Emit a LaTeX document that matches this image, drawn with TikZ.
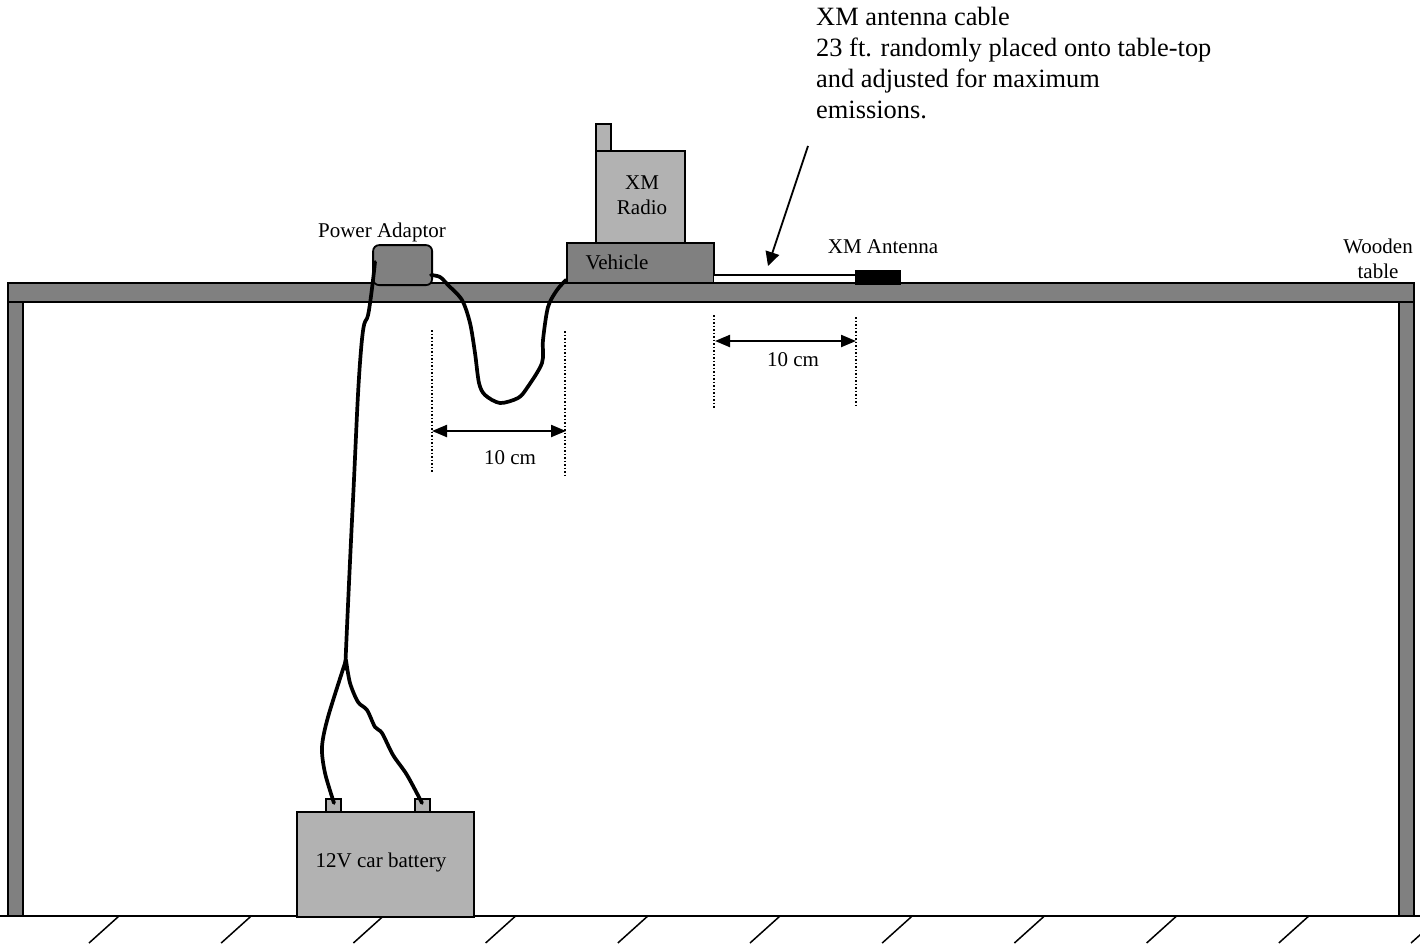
\documentclass[tikz,border=0pt]{standalone}
\usepackage{fontspec}
\setmainfont{Liberation Serif}
\usetikzlibrary{arrows.meta}

\tikzset{
    label21/.style={font=\fontsize{21}{25}\selectfont, inner sep=0pt, align=center},
    darkbox/.style={draw, line width=1.8pt, fill=black!50, rectangle, inner sep=0pt, anchor=north west, xshift=-0.8pt, yshift=0.8pt},
    lightbox/.style={draw, line width=1.8pt, fill=black!30, rectangle, inner sep=0pt, anchor=north west, xshift=-0.8pt, yshift=0.8pt},
    cable/.style={line width=3.7pt, line cap=round, line join=round},
    dimline/.style={line width=2.2pt, {Triangle[length=15pt,width=12pt]}-{Triangle[length=15pt,width=12pt]}},
    guide/.style={line width=1.5pt, dotted},
}

\begin{document}
\begin{tikzpicture}[x=1pt, y=-1pt]
    \useasboundingbox (0,0) rectangle (1420,945);

    % Floor
    \begin{scope}
        \clip (0,0) rectangle (1420,945);
        \foreach \i in {0,...,10} {
            \draw[line width=1.5pt] ({119+132.2*\i},916) -- ++(-30,27);
        }
    \end{scope}
    \draw[line width=1.5pt] (0,916) -- (1420,916);

    % Table
    \node[darkbox, minimum width=15pt, minimum height=614pt] (legL) at (8,302) {};
    \node[darkbox, minimum width=15pt, minimum height=614pt] (legR) at (1399,302) {};
    \node[darkbox, minimum width=1406pt, minimum height=19pt] (tabletop) at (8,283) {};

    % Battery
    \node[lightbox, minimum width=15pt, minimum height=13pt] (termA) at (326,799) {};
    \node[lightbox, minimum width=15pt, minimum height=13pt] (termB) at (415,799) {};
    \node[lightbox, minimum width=177pt, minimum height=105pt] (battery) at (297,812) {};
    \node[label21] (batterytxt) at (381,862) {12V car battery};

    % Radio on vehicle
    \node[lightbox, minimum width=15pt, minimum height=27pt] (stub) at (596,124) {};
    \node[lightbox, minimum width=89pt, minimum height=92pt] (radio) at (596,151) {};
    \node[label21] (radiotxt) at (642,195) {XM\\Radio};
    \node[darkbox, minimum width=147pt, minimum height=40pt] (vehicle) at (567,243) {};
    \node[label21] (vehicletxt) at (617,262) {Vehicle};

    % Antenna
    \node[fill=black, minimum width=46pt, minimum height=15pt, inner sep=0pt, anchor=north west] (antenna) at (855,270) {};
    \coordinate (cableL) at (714,275);
    \coordinate (cableR) at (855,275);
    \fill[white] (714,276) rectangle (855,282);
    \draw[line width=1.8pt] (cableL) -- (cableR);
    \node[label21] (antennatxt) at (883,247) {XM Antenna};

    % Adaptor
    \node[darkbox, rounded corners=6pt, minimum width=59pt, minimum height=40pt] (adaptor) at (373,245) {};
    \node[label21] (adaptortxt) at (382,232) {Power Adaptor};

    % Cables
    \coordinate (adaptorA) at (375,262);
    \coordinate (adaptorB) at (431,275);
    \coordinate (vehicleIn) at (566,280);
    \coordinate (split) at (346,660);
    \coordinate (plusA) at (334,803);
    \coordinate (plusB) at (422,803);
    \draw[cable] plot[smooth, tension=0.5] coordinates {(adaptorB) (440,277) (448,285) (462,300) (470,323) (475,353) (479,383) (485,395) (500,403) (518,398) (527,388) (542,363) (543,340) (548,307) (557,290) (vehicleIn)};
    \draw[cable] plot[smooth, tension=0.8] coordinates {(adaptorA) (369,310) (361,350) (353,500) (346,650) (split)};
    \draw[cable] plot[smooth, tension=0.5] coordinates {(split) (328,717) (322,747) (325,773) (plusA)};
    \draw[cable] plot[smooth, tension=0.5] coordinates {(split) (350,683) (358,702) (367,710) (375,727) (382,733) (393,755) (407,775) (plusB)};

    % Measurements
    \coordinate (gA) at (432,330); \coordinate (gAe) at (432,472);
    \coordinate (gB) at (565,331); \coordinate (gBe) at (565,477);
    \coordinate (gC) at (714,315); \coordinate (gCe) at (714,408);
    \coordinate (gD) at (856,317); \coordinate (gDe) at (856,407);
    \draw[guide] (gA) -- (gAe);
    \draw[guide] (gB) -- (gBe);
    \draw[guide] (gC) -- (gCe);
    \draw[guide] (gD) -- (gDe);
    \draw[dimline] (432,431) -- (566,431);
    \draw[dimline] (715,341) -- (856,341);
    \node[label21] (dimA) at (510,458) {10 cm};
    \node[label21] (dimB) at (793,360) {10 cm};

    % Notes
    \node[label21] (tabletxt) at (1378,259) {Wooden\\table};
    \node[font=\fontsize{26.4}{31}\selectfont, inner sep=0pt, align=left, anchor=north west] (note) at (816,7) {XM antenna cable\\23 ft. randomly placed onto table-top\\and adjusted for maximum\\emissions.};
    \coordinate (noteEnd) at (808,146);
    \coordinate (noteTip) at (768,266);
    \draw[line width=1.8pt, -{Triangle[length=14pt,width=14pt]}] (noteEnd) -- (noteTip);
\end{tikzpicture}
\end{document}
